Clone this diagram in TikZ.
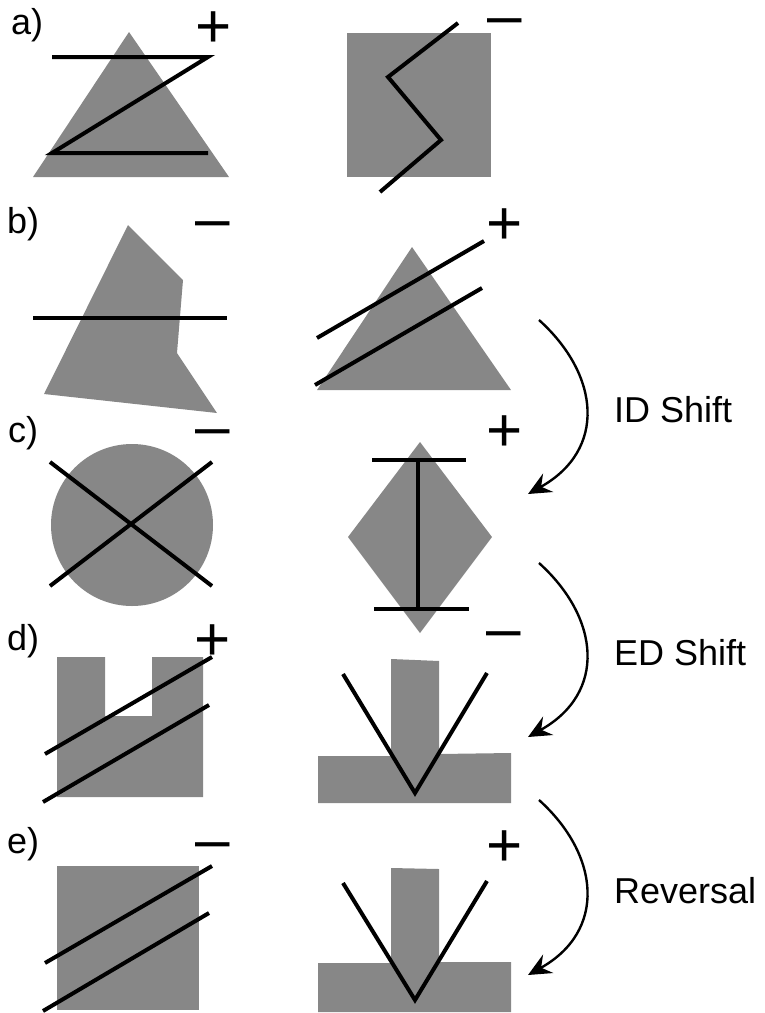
\documentclass[tikz,border=0pt]{standalone}
\usepackage{fontspec}
\setmainfont{Liberation Sans}
\usetikzlibrary{arrows.meta}
\definecolor{shade}{HTML}{878787}

\begin{document}
\begin{tikzpicture}[x=1pt,y=-1pt,>={Stealth[length=23pt,width=21pt,inset=8pt]},
  solid/.style={fill=shade},
  cut/.style={line width=4pt},
  panel/.style={anchor=base west,inner sep=0,font=\fontsize{36}{40}\selectfont},
  sign/.style={anchor=base,inner sep=0,text height=0.6em,text depth=0pt,
    font=\fontsize{62}{62}\selectfont},
  flow/.style={->,line width=2.4pt},
  tag/.style={anchor=base west,inner sep=0,font=\fontsize{36}{40}\selectfont}]
  \useasboundingbox (0,0) rectangle (765,1013);
  % panel labels
  \node[panel] (pa) at (11,34) {a)};
  \node[panel] (pb) at (7,233) {b)};
  \node[panel] (pc) at (8,442) {c)};
  \node[panel] (pd) at (7,650) {d)};
  \node[panel] (pe) at (7,853) {e)};
  % a)
  \fill[solid] (129,32) -- (229,177) -- (33,177) -- cycle;
  \draw[cut] (52,57) -- (208,57) -- (52,153) -- (208,153);
  \node[sign] (sal) at (214,47) {+};
  \fill[solid] (347,33) rectangle (491,177);
  \draw[cut] (458,23) -- (388,77) -- (441,140) -- (380,192);
  \node[sign] (sar) at (505,36) {\textendash};
  % b)
  \fill[solid] (128,225) -- (183,280) -- (177,353) -- (217,413) -- (44,394) -- cycle;
  \draw[cut] (33,318) -- (227,318);
  \node[sign] (sbl) at (213,239) {\textendash};
  \fill[solid] (412,247) -- (511,390) -- (317,390) -- cycle;
  \draw[cut] (317,338) -- (484,241);
  \draw[cut] (315,385) -- (482,288);
  \node[sign] (sbr) at (505,244) {+};
  % c)
  \fill[solid] (132,525) circle[radius=81];
  \draw[cut] (50,462) -- (212,586);
  \draw[cut] (50,586) -- (212,462);
  \node[sign] (scl) at (213,447) {\textendash};
  \fill[solid] (420,442) -- (492,537) -- (420,633) -- (348,537) -- cycle;
  \draw[cut] (372,460) -- (466,460);
  \draw[cut] (418,460) -- (418,609);
  \draw[cut] (374,609) -- (469,609);
  \node[sign] (scr) at (505,451) {+};
  % d)
  \fill[solid] (57,657) -- (105,657) -- (105,716) -- (152,716) -- (152,657) -- (203,657)
    -- (203,797) -- (57,797) -- cycle;
  \draw[cut] (45,754) -- (212,657);
  \draw[cut] (43,802) -- (209,705);
  \node[sign] (sdl) at (213,660) {+};
  \fill[solid] (318,756) -- (391,756) -- (391,659) -- (439,661) -- (439,754) -- (511,753)
    -- (511,803) -- (318,803) -- cycle;
  \draw[cut] (343,674) -- (415,793) -- (487,673);
  \node[sign] (sdr) at (504,649) {\textendash};
  % e)
  \fill[solid] (57,866) rectangle (199,1010);
  \draw[cut] (45,963) -- (212,866);
  \draw[cut] (43,1011) -- (209,913);
  \node[sign] (sel) at (213,860) {\textendash};
  \fill[solid] (318,963) -- (391,963) -- (391,868) -- (439,869) -- (439,962) -- (511,962)
    -- (511,1012) -- (318,1012) -- cycle;
  \draw[cut] (343,883) -- (415,1000) -- (487,881);
  \node[sign] (ser) at (505,866) {+};
  % shifts
  \coordinate (id1) at (539,320); \coordinate (id2) at (528,494);
  \coordinate (ed1) at (539,563); \coordinate (ed2) at (528,737);
  \coordinate (rv1) at (539,800); \coordinate (rv2) at (528,975);
  \draw[flow] (id1) .. controls (600,375) and (607,450) .. (id2);
  \draw[flow] (ed1) .. controls (600,618) and (607,693) .. (ed2);
  \draw[flow] (rv1) .. controls (600,855) and (607,931) .. (rv2);
  \node[tag] (tid) at (614,422) {ID Shift};
  \node[tag] (ted) at (614,665) {ED Shift};
  \node[tag] (trv) at (614,903) {Reversal};
\end{tikzpicture}
\end{document}
